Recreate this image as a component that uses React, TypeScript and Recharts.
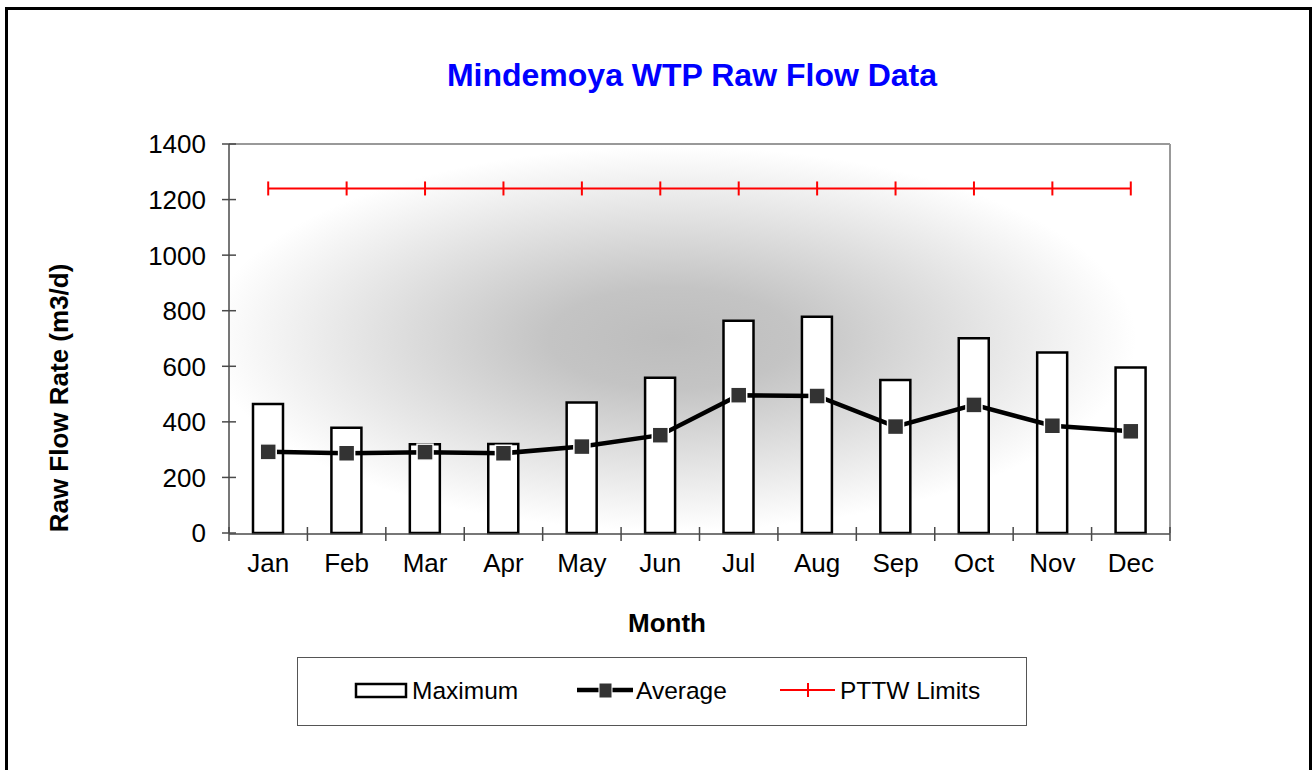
import React from 'react';
import { ComposedChart, Bar, Line, XAxis, YAxis, CartesianGrid, ReferenceLine, Legend } from 'recharts';

const months = ['Jan', 'Feb', 'Mar', 'Apr', 'May', 'Jun', 'Jul', 'Aug', 'Sep', 'Oct', 'Nov', 'Dec'];
const maximumFlow = [464, 379, 319, 320, 470, 559, 764, 778, 551, 701, 650, 596];
const averageFlow = [292, 287, 291, 287, 311, 352, 496, 493, 383, 461, 386, 366];
const pttwLimits = [1240, 1240, 1240, 1240, 1240, 1240, 1240, 1240, 1240, 1240, 1240, 1240];
const yTicks = [0, 200, 400, 600, 800, 1000, 1200, 1400];
const boundaryTicks = [0, 1, 2, 3, 4, 5, 6, 7, 8, 9, 10, 11, 12];

const data = months.map((m, i) => ({
  month: m,
  idx: i,
  maximum: maximumFlow[i],
  average: averageFlow[i],
  pttw: pttwLimits[i],
}));

const FONT = '"Liberation Sans", Arial, Helvetica, sans-serif';
const AXIS = '#4a4a4a';

const YTick = (props: any) => {
  const { x, y, payload } = props;
  return (
    <g>
      <line x1={x - 7} x2={x + 7} y1={y} y2={y} stroke={AXIS} strokeWidth={1.5} />
      <text x={x - 23} y={y} dy="0.36em" textAnchor="end" fontFamily={FONT} fontSize={26} fill="#000">
        {payload.value}
      </text>
    </g>
  );
};

const XCatTick = (props: any) => {
  const { x, y, payload } = props;
  return (
    <text x={x} y={y + 21} dy="0.71em" textAnchor="middle" fontFamily={FONT} fontSize={26} fill="#000">
      {payload.value}
    </text>
  );
};

const BoundaryTick = (props: any) => {
  const { x, y } = props;
  return <line x1={x} x2={x} y1={y - 7} y2={y + 7} stroke={AXIS} strokeWidth={1.5} />;
};

const SquareDot = (props: any) => {
  const { cx, cy } = props;
  if (cx == null || cy == null) return null;
  return <rect x={cx - 8} y={cy - 8} width={16} height={16} fill="#333333" stroke="#ffffff" strokeWidth={1.5} />;
};

const CrossDot = (props: any) => {
  const { cx, cy } = props;
  if (cx == null || cy == null) return null;
  return <line x1={cx} x2={cx} y1={cy - 7} y2={cy + 7} stroke="#ff0000" strokeWidth={2} />;
};

const LegendBox = () => (
  <div
    style={{
      boxSizing: 'border-box',
      width: 730,
      height: 69,
      border: '1px solid #555',
      background: '#fff',
    }}
  >
    <svg width={728} height={67} style={{ display: 'block' }}>
      <rect x={58} y={26} width={50} height={13} fill="#fff" stroke="#000" strokeWidth={2.5} />
      <text x={114} y={41} fontFamily={FONT} fontSize={24.5} fill="#000">Maximum</text>
      <line x1={279} x2={335} y1={32} y2={32} stroke="#000" strokeWidth={4.5} />
      <rect x={301} y={25} width={13} height={15} fill="#333" stroke="#fff" strokeWidth={1} />
      <text x={338} y={41} fontFamily={FONT} fontSize={24.5} fill="#000">Average</text>
      <line x1={482} x2={537} y1={32} y2={32} stroke="#ff0000" strokeWidth={2} />
      <line x1={510} x2={510} y1={25} y2={39} stroke="#ff0000" strokeWidth={2} />
      <text x={542} y={41} fontFamily={FONT} fontSize={24.5} fill="#000">PTTW Limits</text>
    </svg>
  </div>
);

export default function App() {
  return (
    <div style={{ position: 'absolute', left: 0, top: 0, width: 1312, height: 770, background: '#fff', overflow: 'hidden' }}>
      <svg width={0} height={0} style={{ position: 'absolute' }}>
        <defs>
          <radialGradient id="plotBg" cx="0.47" cy="0.5" r="0.52">
            <stop offset="0" stopColor="#bdbdbd" />
            <stop offset="0.25" stopColor="#c4c4c4" />
            <stop offset="0.95" stopColor="#ffffff" />
          </radialGradient>
        </defs>
      </svg>
      <div
        style={{
          position: 'absolute',
          left: 5,
          top: 7,
          width: 1307,
          height: 800,
          boxSizing: 'border-box',
          border: '3px solid #000',
        }}
      />
      <div style={{ position: 'absolute', left: 0, top: 0 }}>
        <ComposedChart
          width={1312}
          height={770}
          data={data}
          margin={{ top: 144, right: 142, bottom: 235, left: 228 }}
        >
          <CartesianGrid horizontal={false} vertical={false} fill="url(#plotBg)" fillOpacity={1} />
          <XAxis
            xAxisId="b"
            dataKey="idx"
            type="number"
            domain={[0, 12]}
            ticks={boundaryTicks}
            allowDataOverflow
            height={1}
            tickSize={0}
            tickMargin={0}
            tickLine={false}
            axisLine={{ stroke: AXIS, strokeWidth: 1.5 }}
            interval={0}
            tick={<BoundaryTick />}
          />
          <XAxis
            dataKey="month"
            height={1}
            tickSize={0}
            tickMargin={0}
            tickLine={false}
            axisLine={false}
            interval={0}
            tick={<XCatTick />}
          />
          <YAxis
            domain={[0, 1400]}
            ticks={yTicks}
            width={1}
            tickSize={0}
            tickMargin={0}
            tickLine={false}
            axisLine={{ stroke: AXIS, strokeWidth: 1.5 }}
            interval={0}
            tick={<YTick />}
          />
          <ReferenceLine y={1400} stroke="#999" strokeWidth={2} />
          <ReferenceLine x={12} xAxisId="b" stroke="#999" strokeWidth={2} ifOverflow="visible" />
          <Bar dataKey="maximum" name="Maximum" barSize={30} fill="#ffffff" stroke="#000" strokeWidth={2.5} isAnimationActive={false} />
          <Line
            dataKey="average"
            name="Average"
            stroke="#000"
            strokeWidth={4.5}
            dot={<SquareDot />}
            activeDot={false}
            isAnimationActive={false}
          />
          <Line
            dataKey="pttw"
            name="PTTW Limits"
            stroke="#ff0000"
            strokeWidth={2}
            dot={<CrossDot />}
            activeDot={false}
            isAnimationActive={false}
          />
          <Legend
            layout="horizontal"
            verticalAlign="middle"
            align="center"
            content={<LegendBox />}
            wrapperStyle={{ left: 297, top: 657, width: 730, height: 69 }}
          />
        </ComposedChart>
      </div>
      <svg width={1312} height={770} style={{ position: 'absolute', left: 0, top: 0, pointerEvents: 'none' }}>
        <text x={692} y={86} textAnchor="middle" fontFamily={FONT} fontWeight="bold" fontSize={32} fill="#0000ff">
          Mindemoya WTP Raw Flow Data
        </text>
        <text
          x={59}
          y={398}
          dy="0.36em"
          textAnchor="middle"
          transform="rotate(-90, 59, 398)"
          fontFamily={FONT}
          fontWeight="bold"
          fontSize={26}
          fill="#000"
        >
          Raw Flow Rate (m3/d)
        </text>
        <text x={667} y={632} textAnchor="middle" fontFamily={FONT} fontWeight="bold" fontSize={26} fill="#000">
          Month
        </text>
      </svg>
    </div>
  );
}
